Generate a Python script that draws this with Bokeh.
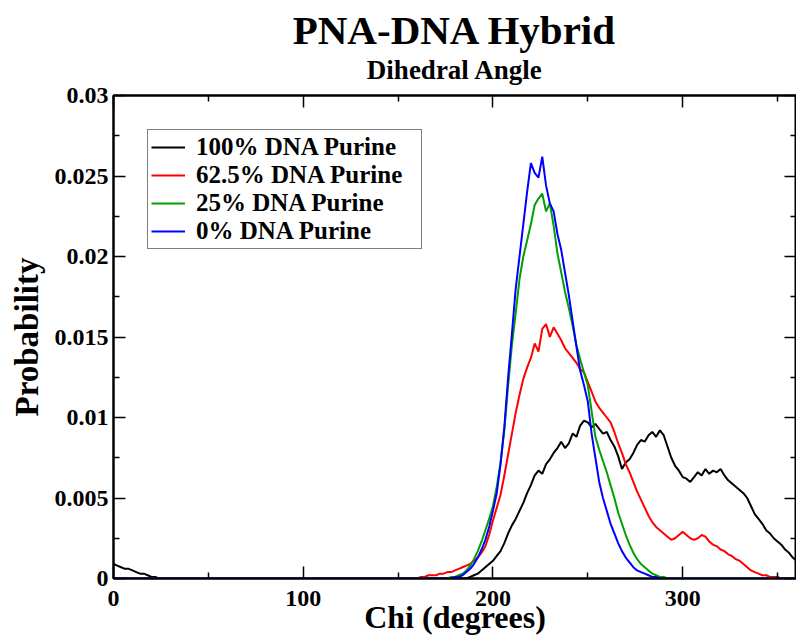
from bokeh.plotting import figure
from bokeh.models import Range1d, LinearAxis, FixedTicker, Legend, LegendItem, Title
from bokeh.embed import file_html
from bokeh.resources import INLINE

# ---- data ----
chi = list(range(0, 361, 2))

dna100 = ([0.0009, 0.0008, 0.0007, 0.0006, 0.0006, 0.0005, 0.0004, 0.0003, 0.0003, 0.0002,
           0.0001, 0.0001, 0.0] + [0.0] * 81 +
          [0.0001, 0.0002, 0.0003, 0.0005, 0.0007, 0.0009, 0.0011, 0.0014, 0.0017, 0.0022,
           0.0028, 0.0033, 0.0037, 0.0042, 0.0047, 0.0053, 0.0058, 0.0064, 0.0067, 0.0065,
           0.0071, 0.0074, 0.0078, 0.0081, 0.0085, 0.0081, 0.0084, 0.0090, 0.0088, 0.0095,
           0.0098, 0.0097, 0.0094, 0.0096, 0.0093, 0.0090, 0.0091, 0.0086, 0.0082, 0.0076,
           0.0068, 0.0072, 0.0074, 0.0078, 0.0083, 0.0086, 0.0085, 0.0089, 0.0091, 0.0088,
           0.0092, 0.0089, 0.0082, 0.0075, 0.0070, 0.0067, 0.0063, 0.0062, 0.0060, 0.0063,
           0.0066, 0.0064, 0.0068, 0.0065, 0.0067, 0.0066, 0.0068, 0.0064, 0.0061, 0.0059,
           0.0057, 0.0055, 0.0053, 0.0050, 0.0045, 0.0040, 0.0037, 0.0034, 0.0030, 0.0028,
           0.0025, 0.0023, 0.0021, 0.0018, 0.0016, 0.0013, 0.0011])

dna62 = ([0.0] * 81 +
         [0.0001, 0.0001, 0.0002, 0.0002, 0.0002, 0.0003, 0.0003, 0.0004, 0.0004, 0.0005,
          0.0006, 0.0007, 0.0008, 0.0009, 0.0011, 0.0013, 0.0016, 0.0020, 0.0027, 0.0036,
          0.0044, 0.0052, 0.0064, 0.0077, 0.0090, 0.0103, 0.0114, 0.0124, 0.0131, 0.0137,
          0.0146, 0.0141, 0.0155, 0.0158, 0.0150, 0.0156, 0.0152, 0.0148, 0.0143, 0.0140,
          0.0137, 0.0134, 0.0130, 0.0128, 0.0122, 0.0116, 0.0110, 0.0106, 0.0103, 0.0100,
          0.0097, 0.0091, 0.0084, 0.0078, 0.0071, 0.0066, 0.0060, 0.0054, 0.0049, 0.0044,
          0.0039, 0.0035, 0.0032, 0.0030, 0.0028, 0.0026, 0.0024, 0.0025, 0.0027, 0.0029,
          0.0027, 0.0025, 0.0024, 0.0025, 0.0027, 0.0026, 0.0023, 0.0021, 0.0020, 0.0018,
          0.0017, 0.0015, 0.0014, 0.0012, 0.0011, 0.0009, 0.0007, 0.0005, 0.0004, 0.0003,
          0.0002, 0.0002, 0.0001, 0.0001, 0.0001] + [0.0] * 5)

dna25 = ([0.0] * 89 +
         [0.0001, 0.0001, 0.0002, 0.0003, 0.0005, 0.0008, 0.0012, 0.0017, 0.0023, 0.0030,
          0.0037, 0.0045, 0.0057, 0.0072, 0.0092, 0.0120, 0.0145, 0.0165, 0.0186, 0.0200,
          0.0210, 0.0220, 0.0232, 0.0236, 0.0239, 0.0228, 0.0233, 0.0219, 0.0202, 0.0190,
          0.0178, 0.0168, 0.0157, 0.0145, 0.0136, 0.0128, 0.0120, 0.0104, 0.0088, 0.0080,
          0.0073, 0.0066, 0.0058, 0.0050, 0.0041, 0.0034, 0.0027, 0.0021, 0.0016, 0.0012,
          0.0009, 0.0007, 0.0005, 0.0003, 0.0002, 0.0001, 0.0001] + [0.0] * 35)

dna0 = ([0.0] * 90 +
        [0.0001, 0.0001, 0.0002, 0.0004, 0.0006, 0.0009, 0.0013, 0.0018, 0.0024, 0.0032,
         0.0042, 0.0053, 0.0071, 0.0094, 0.0125, 0.0152, 0.0180, 0.0200, 0.0220, 0.0240,
         0.0258, 0.0252, 0.0249, 0.0262, 0.0244, 0.0233, 0.0228, 0.0214, 0.0204, 0.0190,
         0.0176, 0.0160, 0.0144, 0.0129, 0.0120, 0.0110, 0.0090, 0.0075, 0.0060, 0.0050,
         0.0042, 0.0034, 0.0028, 0.0022, 0.0017, 0.0013, 0.0010, 0.0007, 0.0005, 0.0004,
         0.0003, 0.0002, 0.0001, 0.0001] + [0.0] * 37)

series_names = ["100% DNA Purine", "62.5% DNA Purine", "25% DNA Purine", "0% DNA Purine"]
series_colors = ["#000000", "#ff0000", "#00a000", "#0000ff"]

x_major = [0, 100, 200, 300]
x_minor = [50, 150, 250, 350]
y_major = [0.0, 0.005, 0.01, 0.015, 0.02, 0.025, 0.03]
y_minor = [0.0025, 0.0075, 0.0125, 0.0175, 0.0225, 0.0275]
y_labels = ["0", "0.005", "0.01", "0.015", "0.02", "0.025", "0.03"]

FONT = "Liberation Serif"

p = figure(width=796, height=641, output_backend="svg", toolbar_location=None,
           x_range=Range1d(0, 360), y_range=Range1d(0, 0.03),
           x_axis_location=None, y_axis_location=None,
           min_border_left=113, min_border_right=0, min_border_top=95, min_border_bottom=63)
p.grid.visible = False
p.outline_line_color = "black"
p.outline_line_width = 2
p.background_fill_color = "white"
p.border_fill_color = "white"

renderers = []
for ys, c in zip([dna100, dna62, dna25, dna0], series_colors):
    r = p.line(chi, ys, line_color=c, line_width=2)
    renderers.append(r)


def style_axis(ax, major, minor, labels=True):
    ax.ticker = FixedTicker(ticks=major, minor_ticks=minor)
    ax.major_tick_in = 12
    ax.major_tick_out = 0
    ax.minor_tick_in = 6
    ax.minor_tick_out = 0
    ax.axis_line_color = "black"
    ax.axis_line_width = 2
    ax.major_tick_line_color = "black"
    ax.major_tick_line_width = 1.5
    ax.minor_tick_line_color = "black"
    ax.minor_tick_line_width = 1.5
    if labels:
        ax.major_label_text_font = FONT
        ax.major_label_text_font_style = "bold"
        ax.major_label_text_font_size = "24px"
        ax.major_label_text_color = "black"
        ax.axis_label_text_font = FONT
        ax.axis_label_text_font_style = "bold"
        ax.axis_label_text_font_size = "33px"
        ax.axis_label_text_color = "black"
    else:
        ax.major_label_overrides = {t: "" for t in major}
        ax.major_label_text_font_size = "1px"
        ax.major_label_standoff = 0


xb = LinearAxis(axis_label="Chi (degrees)")
style_axis(xb, x_major, x_minor)
xb.axis_label_text_font_size = "32px"
xb.major_label_standoff = 12
xb.axis_label_standoff = -10
p.add_layout(xb, "below")

yl = LinearAxis(axis_label="Probability")
style_axis(yl, y_major, y_minor)
yl.major_label_overrides = {v: s for v, s in zip(y_major, y_labels)}
yl.major_label_standoff = 5
yl.axis_label_standoff = 7
p.add_layout(yl, "left")

xt = LinearAxis()
style_axis(xt, x_major, x_minor, labels=False)
p.add_layout(xt, "above")

yr = LinearAxis()
style_axis(yr, y_major, y_minor, labels=False)
p.add_layout(yr, "right")

legend = Legend(items=[LegendItem(label=n, renderers=[r]) for n, r in zip(series_names, renderers)],
                location="top_left")
legend.margin = 34
legend.padding = 3
legend.spacing = 0
legend.glyph_width = 34
legend.glyph_height = 20
legend.label_standoff = 11
legend.label_width = 222
legend.label_text_font = FONT
legend.label_text_font_style = "bold"
legend.label_text_font_size = "25px"
legend.label_text_color = "black"
legend.border_line_color = "black"
legend.border_line_width = 1.5
legend.background_fill_color = "white"
legend.background_fill_alpha = 1
p.add_layout(legend, "center")

sub = Title(text="Dihedral Angle", align="center", text_font=FONT, text_font_style="bold",
            text_font_size="27px", text_color="black", standoff=22)
p.add_layout(sub, "above")
main = Title(text="PNA-DNA Hybrid", align="center", text_font=FONT, text_font_style="bold",
             text_font_size="41px", text_color="black", standoff=-23)
p.add_layout(main, "above")

open("out.html", "w").write(file_html(p, INLINE))
